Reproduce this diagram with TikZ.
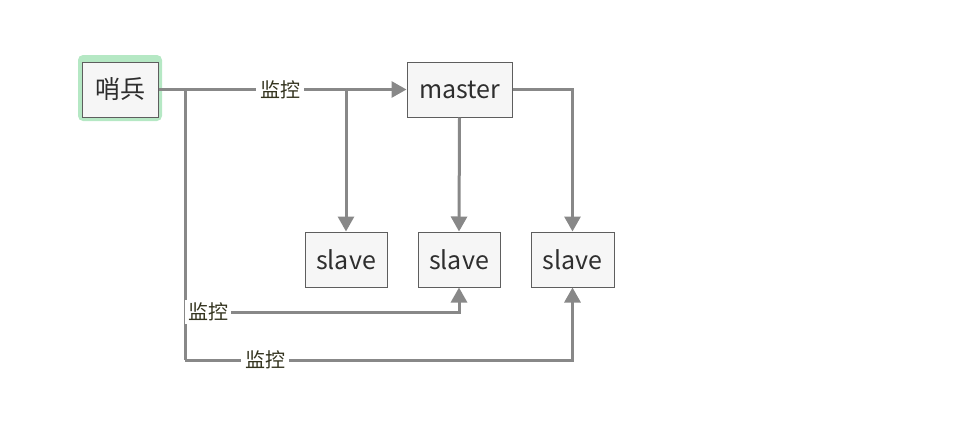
\documentclass[tikz,border=0pt]{standalone}
\usepackage{fontspec}
\setmainfont{Noto Sans CJK SC}
\usetikzlibrary{arrows.meta}
\definecolor{linegray}{HTML}{888888}
\definecolor{boxfill}{HTML}{F6F6F6}
\definecolor{boxline}{HTML}{5E5E5E}
\definecolor{txt}{HTML}{2E2E2E}
\definecolor{lbl}{HTML}{34341F}
\definecolor{hl}{HTML}{B5E8C4}
\tikzset{
  box/.style={draw=boxline, line width=1pt, fill=boxfill, minimum height=55pt, inner sep=0pt, text=txt, font=\fontsize{25}{28}\selectfont},
  conn/.style={draw=linegray, line width=3pt},
  arr/.style={conn, -{Triangle[length=15pt,width=16pt]}},
  lab/.style={fill=white, text=lbl, inner sep=4pt, font=\fontsize{20}{24}\selectfont}
}
\begin{document}
\begin{tikzpicture}[x=1pt,y=-1pt]
\useasboundingbox (0,0) rectangle (959,440);
% highlight
\fill[hl, rounded corners=5pt] (78,55) rectangle (162,121);
\node[box, minimum width=76pt] (s) at (120,89.5) {哨兵};
\node[box, minimum width=105pt] (m) at (459.5,89.5) {master};
\node[box, minimum width=82pt] (a) at (346,259.5) {slave};
\node[box, minimum width=82pt] (b) at (459,259.5) {slave};
\node[box, minimum width=83pt] (c) at (572.5,259.5) {slave};
\coordinate (j1) at (346,89.5);
\coordinate (j2) at (185,89.5);
\coordinate (k1) at (185,312);
\coordinate (k2) at (185,360);
% main
\draw[arr] (s.east) -- node[lab, pos=0.49] (l1) {监控} (m.west);
\draw[arr] (j1) -- (a.north);
\draw[conn] (j2) -- (k2);
\draw[arr] (k2) -- (c.south |- k2) -- (c.south);
\node[lab] (l3) at (265,360) {监控};
\draw[arr] (k1) -- (b.south |- k1) -- (b.south);
\node[lab, anchor=west, inner sep=3pt] (l2) at (185,312) {监控};
\draw[arr] (m.south) -- (b.north);
\draw[arr] (m.east) -- (c.north |- m.east) -- (c.north);
\end{tikzpicture}
\end{document}
